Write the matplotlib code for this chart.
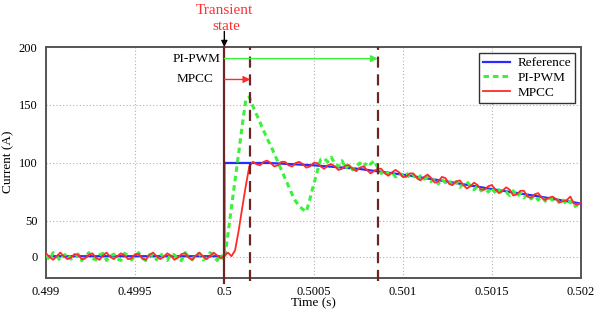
import numpy as np
import matplotlib
matplotlib.use("Agg")
import matplotlib.pyplot as plt

plt.rcParams['font.family'] = ['Liberation Serif', 'DejaVu Serif']

# ---------------- data ----------------
t_start = 0.499
dt = 0.00002
n_samples = 151

ref_t = [0.499, 0.5, 0.5, 0.50025, 0.5005, 0.50075, 0.501, 0.50125, 0.5015, 0.50175, 0.502]
ref_v = [1, 1, 100, 100, 98, 95, 90, 84, 77.5, 71.5, 65]

mpcc_v = [5, 0, -4, 1, 6, 1, -3, -1, 4, 3,
          -3, -2, 3, 5, -1, -4, 2, 6, 0, -3,
          1, 5, 2, -3, -2, 4, 4, -2, -4, 3,
          6, 1, -3, 0, 5, 2, -4, -1, 4, 5,
          -1, -4, 2, 6, 1, -3, 1, 6, 2, -2,
          2, 6, 1, 9, 36, 61, 80, 97,
          101, 99, 98, 101, 102, 100, 97, 98, 101, 101,
          98, 97, 100, 101, 99, 96, 97, 100, 100, 97,
          95, 98, 99, 97, 94, 95, 98, 98, 95, 93,
          96, 97, 94, 91, 93, 95, 95, 91, 89, 92,
          94, 92, 88, 88, 91, 91, 87, 85, 88, 90,
          87, 83, 84, 88, 87, 82, 81, 84, 85, 81,
          78, 80, 83, 81, 77, 77, 80, 81, 77, 74,
          76, 79, 77, 72, 73, 76, 76, 71, 70, 73,
          74, 70, 68, 70, 71, 69, 66, 67, 68, 71,
          65, 64, 66]

pipwm_v = [3, -4, 6, 1, -5, 2, 5, -3, -1, 4,
           -5, 0, 6, -2, -4, 3, 5, -5, 1, 4,
           -3, -5, 5, 2, -4, 1, 6, -2, -5, 3,
           2, -4, 5, 0, -5, 4, 3, -3, -5, 6,
           0, -4, 3, 5, -4, -2, 6, 1, -5, 3,
           -4, 31, 62, 85, 108, 132, 154, 157,
           149, 142, 135, 128, 121, 115, 108, 101, 94, 87,
           80, 73, 67, 63, 60, 58, 69, 81, 92, 103,
           104, 101, 105, 99, 97, 102, 95, 99, 94, 97,
           100, 96, 101, 99, 102, 96, 91, 94, 90, 92,
           88, 91, 89, 92, 87, 90, 85, 89, 86, 88,
           84, 87, 82, 86, 83, 85, 80, 84, 79, 82,
           84, 80, 77, 80, 76, 78, 75, 79, 74, 77,
           74, 75, 72, 76, 71, 74, 70, 73, 69, 72,
           68, 71, 67, 70, 68, 70, 65, 68, 64, 67,
           62, 64, 61]

t = t_start + dt * np.arange(n_samples)

x_ticks = [0.499, 0.4995, 0.5, 0.5005, 0.501, 0.5015, 0.502]
x_tick_labels = ['0.499', '0.4995', '0.5', '0.5005', '0.501', '0.5015', '0.502']
y_ticks = [0, 50, 100, 150, 200]
y_tick_labels = ['0', '50', '100', '150', '200']

t_step = 0.5
t_mpcc = 0.500145
t_pipwm = 0.50086

# --------------- axis scale (compressed below 50, as in the original) ---------------
K = 0.62
def fwd(v):
    v = np.asarray(v, dtype=float)
    return np.where(v >= 50, v, 50 - (50 - v) * K)
def inv(u):
    u = np.asarray(u, dtype=float)
    return np.where(u >= 50, u, 50 - (50 - u) / K)

W, H = 595, 311
fig = plt.figure(figsize=(W/100, H/100), dpi=100)
ax = fig.add_axes([46/W, 1-278/H, 535/W, 231/H])
ax.set_yscale('function', functions=(fwd, inv))

blue = '#2a2aff'
green = '#3cf03c'
red = '#ff2a2a'
brown = '#6e2424'

ax.plot(ref_t, ref_v, color=blue, lw=1.6, label='Reference', zorder=3)
ax.plot(t, pipwm_v, color=green, lw=2.2, ls=(0, (1.8, 1.3)), label='PI-PWM', zorder=4)
ax.plot(t, mpcc_v, color=red, lw=1.3, label='MPCC', zorder=5)

ax.set_xlim(0.499, 0.502)
ax.set_ylim(-29.3, 200)
ax.set_xticks(x_ticks)
ax.set_xticklabels(x_tick_labels)
ax.set_yticks(y_ticks)
ax.set_yticklabels(y_tick_labels)
ax.minorticks_off()
ax.tick_params(length=0, labelsize=9, pad=6)
ax.grid(True, color='#b0b0b0', ls=(0, (1, 2)), lw=0.8)
for s in ax.spines.values():
    s.set_color('#555555')
    s.set_linewidth(1.4)

# vertical markers
ax.axvline(t_step, ymin=-0.02, ymax=1.0, color=brown, lw=1.6, clip_on=False, zorder=6)
for tv in (t_mpcc, t_pipwm):
    ax.axvline(tv, ymin=-0.012, ymax=1.0, color=brown, lw=1.6, ls=(0, (5, 3)),
               clip_on=False, zorder=6)

# arrows for transient durations
ax.annotate('', xy=(t_pipwm, 190), xytext=(t_step, 190),
            arrowprops=dict(arrowstyle='-|>', color=green, lw=1.0, mutation_scale=10,
                            shrinkA=0, shrinkB=0), zorder=7)
ax.annotate('', xy=(t_mpcc, 172), xytext=(t_step, 172),
            arrowprops=dict(arrowstyle='-|>', color=red, lw=1.0, mutation_scale=10,
                            shrinkA=0, shrinkB=0), zorder=7)
ax.annotate('PI-PWM', xy=(t_step, 190), xytext=(-2.5, 0), textcoords='offset points',
            ha='right', va='center', fontsize=9.5)
ax.annotate('MPCC', xy=(t_step, 172), xytext=(-8, 0), textcoords='offset points',
            ha='right', va='center', fontsize=9.5)

# transient state label
ax.annotate('', xy=(t_step, 200), xycoords='data', xytext=(t_step, 213.5),
            arrowprops=dict(arrowstyle='-|>', color='black', lw=1.0, mutation_scale=9,
                            shrinkA=0, shrinkB=0), annotation_clip=False)
fig.text(224/W, 1-14/H, 'Transient', color='#ff3030', ha='center', va='baseline',
         fontsize=11)
fig.text(226/W, 1-30/H, 'state', color='#ff3030', ha='center', va='baseline',
         fontsize=11)

fig.text(8/W, 1-162/H, 'Current (A)', rotation=90, ha='center', va='center', fontsize=9.5)
fig.text(313/W, 2/H, 'Time (s)', ha='center', va='bottom', fontsize=9.5)

leg = ax.legend(loc='upper right', bbox_to_anchor=(0.989, 0.974), borderaxespad=0,
                fontsize=9.5, frameon=True, fancybox=False, edgecolor='black',
                handlelength=2.0, handletextpad=0.6, borderpad=0.3, labelspacing=0.2)
leg.get_frame().set_linewidth(1.0)

fig.savefig('out.png', dpi=100)
